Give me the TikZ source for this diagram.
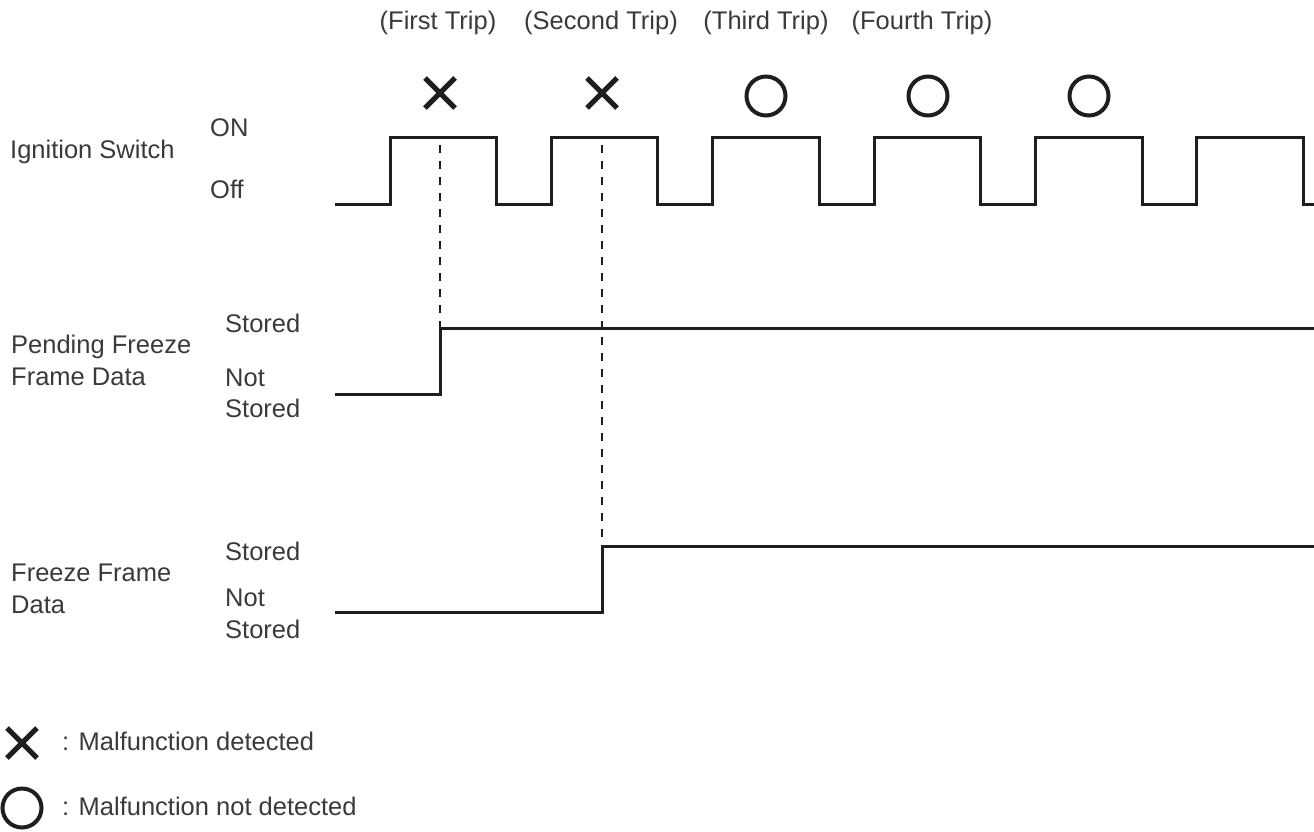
\documentclass[tikz,border=0pt]{standalone}
\usepackage{fontspec}
\setmainfont{Liberation Sans}
\definecolor{txt}{HTML}{3A3A3A}
\definecolor{ink}{HTML}{1E1E1E}
\begin{document}
\begin{tikzpicture}[x=1pt,y=-1pt,
  lbl/.style={inner sep=0pt,anchor=base west,text=txt,font=\fontsize{25.5}{31}\selectfont},
  trip/.style={inner sep=0pt,anchor=base,text=txt,font=\fontsize{25.5}{31}\selectfont},
  wave/.style={draw=ink,line width=3pt,line join=miter},
  guide/.style={draw=ink,line width=2.2pt,dash pattern=on 8pt off 8pt},
  omk/.style={circle,draw=ink,line width=4pt,minimum size=39pt,inner sep=0pt},
  pics/xmk/.style={code={\draw[ink,line width=5pt] (-15,-15) -- (15,15) (-15,15) -- (15,-15);}}
]
\useasboundingbox (0,0) rectangle (1314,831);

% trip labels
\node[trip] (tr1) at (438,29) {(First Trip)};
\node[trip] (tr2) at (601,29) {(Second Trip)};
\node[trip] (tr3) at (766,29) {(Third Trip)};
\node[trip] (tr4) at (922,29) {(Fourth Trip)};

% marks
\pic at (440,93) {xmk};
\pic at (602,93) {xmk};
\node[omk] (o3) at (766,96) {};
\node[omk] (o4) at (928,96) {};
\node[omk] (o5) at (1089,96) {};

% row labels
\node[lbl] (ign) at (10,158) {Ignition Switch};
\node[lbl] (on) at (210,136) {ON};
\node[lbl] (off) at (210,198) {Off};

\node[lbl] (pf1) at (11,353) {Pending Freeze};
\node[lbl] (pf2) at (11,385) {Frame Data};
\node[lbl] (ps) at (225,332) {Stored};
\node[lbl] (pn1) at (225,386) {Not};
\node[lbl] (pn2) at (225,417) {Stored};

\node[lbl] (ff1) at (11,581) {Freeze Frame};
\node[lbl] (ff2) at (11,613) {Data};
\node[lbl] (fs) at (225,560) {Stored};
\node[lbl] (fn1) at (225,606) {Not};
\node[lbl] (fn2) at (225,638) {Stored};

% ignition waveform
\draw[wave] (335,204) -- (390,204) -- (390,137) -- (496,137) -- (496,204)
  -- (551,204) -- (551,137) -- (657,137) -- (657,204)
  -- (712,204) -- (712,137) -- (819,137) -- (819,204)
  -- (874,204) -- (874,137) -- (980,137) -- (980,204)
  -- (1035,204) -- (1035,137) -- (1142,137) -- (1142,204)
  -- (1196,204) -- (1196,137) -- (1303,137) -- (1303,204) -- (1316,204);

% pending freeze frame data
\coordinate (t1) at (440,145);
\coordinate (p1) at (440,328);
\draw[wave] (335,394) -- (440,394) -- (p1) -- (1316,328);
\draw[guide] (t1) -- (p1);

% freeze frame data
\coordinate (t2) at (602,145);
\coordinate (f2) at (602,546);
\draw[wave] (335,612) -- (602,612) -- (f2) -- (1316,546);
\draw[guide] (t2) -- (f2);

% legend
\pic at (22,743) {xmk};
\node[lbl] (lg1) at (62,750) {: Malfunction detected};
\node[omk] (lo) at (22,808) {};
\node[lbl] (lg2) at (62,815) {: Malfunction not detected};
\end{tikzpicture}
\end{document}
